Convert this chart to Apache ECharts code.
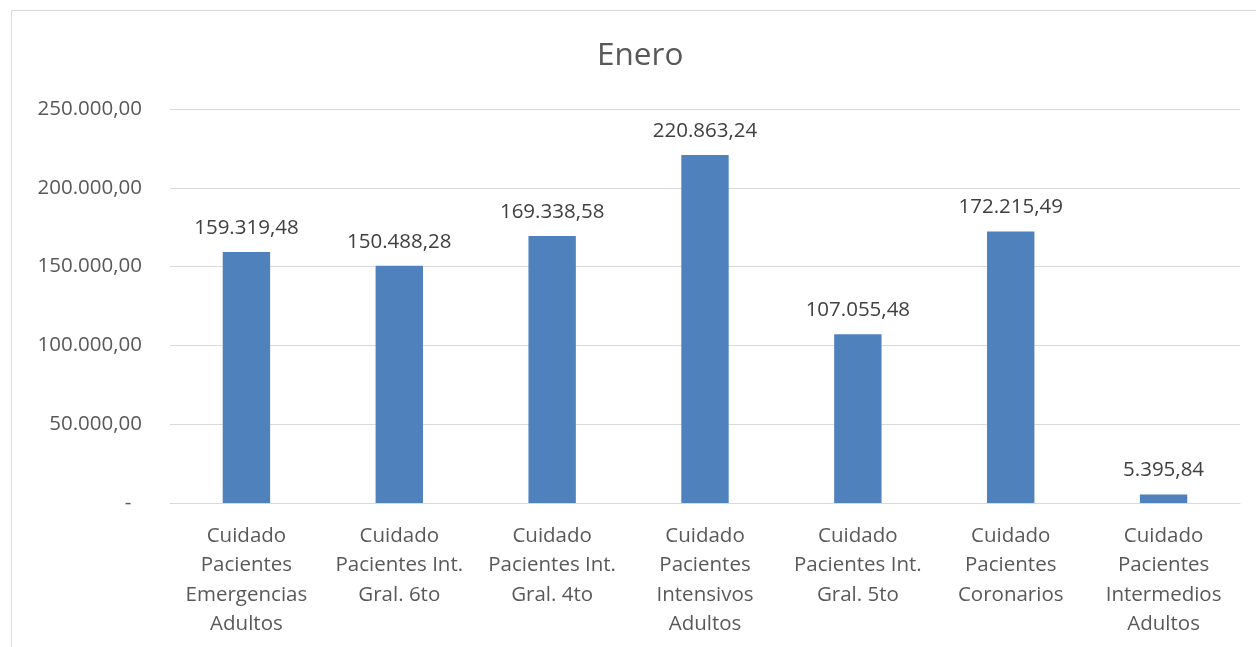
<!DOCTYPE html>
<html>
<head>
<meta charset="utf-8">
<script src="https://cdn.jsdelivr.net/npm/echarts@6/dist/echarts.min.js"></script>
<style>
html,body{margin:0;padding:0;background:#fff;}
#chart{width:1256px;height:647px;}
</style>
</head>
<body>
<div id="chart"></div>
<script>
const title = "Enero";
const categories = [
  "Cuidado\nPacientes\nEmergencias\nAdultos",
  "Cuidado\nPacientes Int.\nGral. 6to",
  "Cuidado\nPacientes Int.\nGral. 4to",
  "Cuidado\nPacientes\nIntensivos\nAdultos",
  "Cuidado\nPacientes Int.\nGral. 5to",
  "Cuidado\nPacientes\nCoronarios",
  "Cuidado\nPacientes\nIntermedios\nAdultos"
];
const values = [159319.48, 150488.28, 169338.58, 220863.24, 107055.48, 172215.49, 5395.84];
const yMin = 0, yMax = 250000, yStep = 50000;

function fmt(v) {
  const fixed = Math.abs(v).toFixed(2);
  const parts = fixed.split(".");
  const intPart = parts[0].replace(/\B(?=(\d{3})+(?!\d))/g, ".");
  return (v < 0 ? "-" : "") + intPart + "," + parts[1];
}

const FONT = "'Open Sans', sans-serif";
const TXT = "#595959";

const chart = echarts.init(document.getElementById("chart"), null, {renderer: "canvas"});
chart.setOption({
  animation: false,
  backgroundColor: "#ffffff",
  title: {
    text: title,
    left: 592,
    top: 35,
    textStyle: {fontFamily: FONT, fontSize: 31.5, fontWeight: "normal", color: TXT}
  },
  graphic: [{
    type: "rect",
    shape: {x: 11.5, y: 10.5, width: 1400, height: 800},
    style: {fill: "none", stroke: "#d9d9d9", lineWidth: 1},
    silent: true
  }],
  grid: {left: 170, right: 16, top: 109, bottom: 144, containLabel: false},
  xAxis: {
    type: "category",
    data: categories,
    axisLine: {show: true, lineStyle: {color: "#d9d9d9", width: 1}},
    axisTick: {show: false},
    axisLabel: {
      interval: 0,
      margin: 18.5,
      fontFamily: FONT,
      fontSize: 20.5,
      lineHeight: 29.3,
      color: TXT,
      align: "center"
    }
  },
  yAxis: {
    type: "value",
    min: yMin,
    max: yMax,
    interval: yStep,
    axisLine: {show: false},
    axisTick: {show: false},
    splitLine: {lineStyle: {color: "#d9d9d9", width: 1}},
    axisLabel: {
      margin: 28,
      fontFamily: FONT,
      fontSize: 20.5,
      color: TXT,
      formatter: function (v) { return v === 0 ? "-  " : fmt(v); }
    }
  },
  series: [{
    type: "bar",
    data: values,
    barCategoryGap: "69%",
    itemStyle: {color: "#4F81BD"},
    label: {
      show: true,
      position: "top",
      distance: 12,
      fontFamily: FONT,
      fontSize: 20.5,
      lineHeight: 24,
      color: "#404040",
      formatter: function (p) { return fmt(p.value); }
    }
  }]
});
</script>
</body>
</html>
